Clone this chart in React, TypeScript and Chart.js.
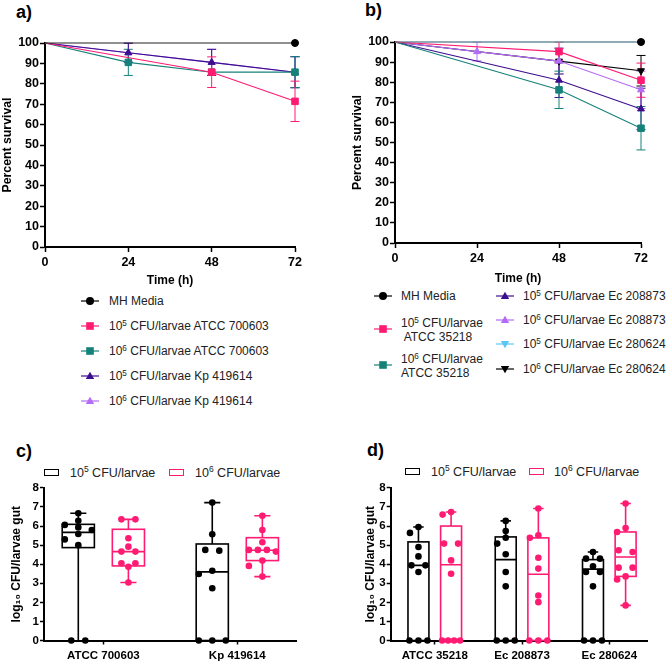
import React, { useEffect, useRef } from 'react';
import { Chart, registerables } from 'chart.js';

Chart.register(...registerables);

const FONT = "'Liberation Sans', Arial, Helvetica, sans-serif";
Chart.defaults.font.family = FONT;
Chart.defaults.color = '#000';

const PINK = '#FF1A72';
const TEAL = '#15827A';
const DPURPLE = '#3C0E8E';
const LPURPLE = '#B46CF6';
const LBLUE = '#5CC6F2';
const BLACK = '#000000';

// ---------- Panels a & b: survival ----------
const TIMES = [0, 24, 48, 72];

const A_MH = [100, 100, 100, 100];
const A_ATCC700603_E5 = [100, null, 85.7, 71.4];
const A_ATCC700603_E5_LO = [null, null, 78.2, 61.5];
const A_ATCC700603_E5_HI = [null, null, 93.2, 81.3];
const A_ATCC700603_E6 = [100, 90.5, 85.7, 85.7];
const A_ATCC700603_E6_LO = [null, 84.1, null, 78.1];
const A_ATCC700603_E6_HI = [null, 96.9, null, 93.3];
const A_KP419614_E5 = [100, 95.2, 90.5, 85.7];
const A_KP419614_E5_LO = [null, 90.6, 84.1, 78.1];
const A_KP419614_E5_HI = [null, 99.9, 96.9, 93.3];
const A_KP419614_E6 = [100, 95.2, 90.5, 85.7];
const A_KP419614_E6_LO = [null, 90.6, 84.1, 78.1];
const A_KP419614_E6_HI = [null, 99.9, 96.9, 93.3];

const B_MH = [100, 100, 100, 100];
const B_ATCC35218_E5 = [100, null, 95.2, 81.0];
const B_ATCC35218_E5_LO = [null, null, 90.6, 72.5];
const B_ATCC35218_E5_HI = [null, null, 99.9, 89.5];
const B_ATCC35218_E6 = [100, null, 76.2, 57.1];
const B_ATCC35218_E6_LO = [null, null, 66.9, 46.3];
const B_ATCC35218_E6_HI = [null, null, 85.5, 67.9];
const B_EC208873_E5 = [100, null, 81.0, 66.7];
const B_EC208873_E5_LO = [null, null, 72.4, 56.4];
const B_EC208873_E5_HI = [null, null, 89.6, 77.0];
const B_EC208873_E6 = [100, 95.2, 90.5, 76.2];
const B_EC208873_E6_LO = [null, 90.6, 84.1, 66.9];
const B_EC208873_E6_HI = [null, 99.9, 96.9, 85.5];
const B_EC280624_E5 = [100, null, null, 100];
const B_EC280624_E6 = [100, null, 90.5, 85.7];
const B_EC280624_E6_LO = [null, null, 84.1, 78.1];
const B_EC280624_E6_HI = [null, null, 96.9, 93.3];

// ---------- Panels c & d: gut colonisation ----------
const C_CATS = ['ATCC 700603', 'Kp 419614'];
const C_ATCC700603_E5 = [6.67, 6.28, 6.06, 5.93, 5.79, 5.58, 5.3, 5.0, 0, 0];
const C_ATCC700603_E6 = [6.35, 6.35, 5.36, 4.92, 4.66, 4.66, 4.05, 4.05, 3.87, 3.04];
const C_KP419614_E5 = [7.23, 5.57, 4.75, 4.71, 3.66, 3.49, 2.74, 0, 0, 0];
const C_KP419614_E6 = [6.54, 5.79, 5.15, 4.75, 4.75, 4.75, 4.66, 4.19, 3.91, 3.35];
// [min, q1, median, q3, max]
const C_BOX_E5 = [[0, 4.87, 5.67, 6.09, 6.67], [0, 0, 3.6, 5.06, 7.23]];
const C_BOX_E6 = [[3.04, 3.91, 4.66, 5.83, 6.35], [3.35, 4.19, 4.73, 5.39, 6.54]];

const D_CATS = ['ATCC 35218', 'Ec 208873', 'Ec 280624'];
const D_ATCC35218_E5 = [5.95, 5.64, 4.9, 4.41, 3.94, 3.94, 3.59, 0, 0, 0];
const D_ATCC35218_E6 = [6.74, 6.6, 5.08, 5.08, 4.2, 3.5, 0, 0, 0, 0];
const D_EC208873_E5 = [6.27, 5.74, 5.39, 5.08, 4.52, 3.59, 2.84, 0, 0, 0];
const D_EC208873_E6 = [6.92, 5.52, 5.39, 4.34, 3.77, 2.36, 2.01, 0, 0, 0];
const D_EC280624_E5 = [4.64, 4.29, 4.29, 3.89, 3.59, 3.59, 2.84, 0, 0, 0];
const D_EC280624_E6 = [7.18, 5.9, 5.69, 4.73, 4.64, 3.82, 3.82, 3.36, 3.2, 1.84];
const D_BOX_E5 = [[0, 0, 3.94, 5.17, 5.95], [0, 0, 4.24, 5.43, 6.27], [0, 0, 3.74, 4.24, 4.64]];
const D_BOX_E6 = [[0, 0, 3.97, 6.0, 6.74], [0, 0, 3.47, 5.38, 6.92], [1.84, 3.36, 4.38, 5.69, 7.18]];

// ---------- helpers ----------
const BOLD = (size: number) => ({ family: FONT, size, weight: 'bold' as const });

type Series = {
  exp: string | null;
  text: string;
  values: (number | null)[];
  lo?: (number | null)[];
  hi?: (number | null)[];
  color: string;
  line?: string;
  shape: 'circle' | 'rect' | 'triangle';
  down?: boolean;
};

const A_SERIES: Series[] = [
  { exp: null, text: 'MH Media', values: A_MH, color: BLACK, line: '#222', shape: 'circle' },
  { exp: '5', text: ' CFU/larvae ATCC 700603', values: A_ATCC700603_E5, lo: A_ATCC700603_E5_LO, hi: A_ATCC700603_E5_HI, color: PINK, shape: 'rect' },
  { exp: '6', text: ' CFU/larvae ATCC 700603', values: A_ATCC700603_E6, lo: A_ATCC700603_E6_LO, hi: A_ATCC700603_E6_HI, color: TEAL, shape: 'rect' },
  { exp: '5', text: ' CFU/larvae Kp 419614', values: A_KP419614_E5, lo: A_KP419614_E5_LO, hi: A_KP419614_E5_HI, color: DPURPLE, shape: 'triangle' },
  { exp: '6', text: ' CFU/larvae Kp 419614', values: A_KP419614_E6, lo: A_KP419614_E6_LO, hi: A_KP419614_E6_HI, color: LPURPLE, shape: 'triangle' },
];

const B_SERIES: Series[] = [
  { exp: null, text: 'MH Media', values: B_MH, color: BLACK, line: '#777', shape: 'circle' },
  { exp: '5', text: ' CFU/larvae|ATCC 35218', values: B_ATCC35218_E5, lo: B_ATCC35218_E5_LO, hi: B_ATCC35218_E5_HI, color: PINK, shape: 'rect' },
  { exp: '6', text: ' CFU/larvae|ATCC 35218', values: B_ATCC35218_E6, lo: B_ATCC35218_E6_LO, hi: B_ATCC35218_E6_HI, color: TEAL, shape: 'rect' },
  { exp: '5', text: ' CFU/larvae Ec 208873', values: B_EC208873_E5, lo: B_EC208873_E5_LO, hi: B_EC208873_E5_HI, color: DPURPLE, shape: 'triangle' },
  { exp: '6', text: ' CFU/larvae Ec 208873', values: B_EC208873_E6, lo: B_EC208873_E6_LO, hi: B_EC208873_E6_HI, color: LPURPLE, shape: 'triangle' },
  { exp: '5', text: ' CFU/larvae Ec 280624', values: B_EC280624_E5, color: LBLUE, shape: 'triangle', down: true },
  { exp: '6', text: ' CFU/larvae Ec 280624', values: B_EC280624_E6, lo: B_EC280624_E6_LO, hi: B_EC280624_E6_HI, color: BLACK, shape: 'triangle', down: true },
];

const errorBarPlugin = {
  id: 'errorBars',
  beforeDatasetsDraw(chart: any) {
    const { ctx } = chart;
    const xs = chart.scales.x;
    const ys = chart.scales.y;
    const ds = chart.data.datasets;
    for (let i = ds.length - 1; i >= 0; i--) {
      const d = ds[i];
      if (!d.errLo) continue;
      ctx.save();
      ctx.strokeStyle = d.pointBackgroundColor;
      ctx.lineWidth = 1;
      TIMES.forEach((t, j) => {
        const lo = d.errLo[j];
        const hi = d.errHi[j];
        if (lo == null || hi == null) return;
        const px = xs.getPixelForValue(t);
        const pl = ys.getPixelForValue(lo);
        const ph = ys.getPixelForValue(hi);
        ctx.beginPath();
        ctx.moveTo(px, pl);
        ctx.lineTo(px, ph);
        ctx.moveTo(px - 4.5, pl);
        ctx.lineTo(px + 4.5, pl);
        ctx.moveTo(px - 4.5, ph);
        ctx.lineTo(px + 4.5, ph);
        ctx.stroke();
      });
      ctx.restore();
    }
  },
};

type SurvLayout = { padTop: number; padRight: number; yWidth: number; xHeight: number; yTitlePad: number; xTitlePad: number; xTickPad: number };

function survivalConfig(series: Series[], L: SurvLayout): any {
  const gridOpts = { display: true, drawOnChartArea: false, drawTicks: true, tickLength: 5, tickWidth: 1.5, tickColor: '#000' };
  const borderOpts = { display: true, color: '#000', width: 2 };
  return {
    type: 'line',
    data: {
      labels: TIMES,
      datasets: series.map((s) => {
        const r = s.shape === 'rect' ? 4.6 : s.shape === 'circle' ? 3.5 : 4.0;
        return {
          label: s.text,
          data: s.values,
          borderColor: s.line ?? s.color,
          backgroundColor: s.color,
          pointBackgroundColor: s.color,
          pointBorderColor: s.color,
          pointBorderWidth: 1,
          borderWidth: 1.1,
          pointStyle: s.shape,
          pointRotation: s.down ? 180 : 0,
          // markers at event times only: none at the start, and a constant 100% line shows one at the end
          pointRadius: (c: any) => {
            if (c.dataIndex === 0) return 0;
            const vals = s.values;
            const flat = vals.every((v) => v === null || v === 100);
            if (flat && c.dataIndex !== vals.length - 1) return 0;
            return r;
          },
          spanGaps: true,
          clip: false,
          tension: 0,
          fill: false,
          errLo: s.lo,
          errHi: s.hi,
        };
      }),
    },
    options: {
      responsive: false,
      animation: false,
      events: [],
      layout: { padding: { top: L.padTop, right: L.padRight, left: 0, bottom: 0 } },
      plugins: { legend: { display: false }, tooltip: { enabled: false } },
      scales: {
        x: {
          type: 'linear',
          min: 0,
          max: 72,
          ticks: { stepSize: 24, font: BOLD(12.5), color: '#000', padding: L.xTickPad, maxRotation: 0, autoSkip: false },
          grid: gridOpts,
          border: borderOpts,
          title: { display: true, text: 'Time (h)', font: BOLD(12), color: '#000', padding: { top: 0, bottom: L.xTitlePad } },
          afterFit: (sc: any) => {
            sc.height = L.xHeight;
          },
        },
        y: {
          type: 'linear',
          min: 0,
          max: 100,
          ticks: { stepSize: 10, font: BOLD(12.5), color: '#000', padding: 1 },
          grid: gridOpts,
          border: borderOpts,
          title: { display: true, text: 'Percent survival', font: BOLD(12.3), color: '#000', padding: { top: L.yTitlePad, bottom: 0 } },
          afterFit: (sc: any) => {
            sc.width = L.yWidth;
          },
        },
      },
    },
    plugins: [errorBarPlugin],
  };
}

// simple beeswarm: returns horizontal pixel offsets for each value
function swarm(vals: number[], yPx: number, step: number, tieSpread: number, diam: number): number[] {
  const order = vals.map((_, i) => i).sort((a, b) => vals[b] - vals[a]);
  const out = new Array(vals.length).fill(0);
  const placed: { v: number; x: number }[] = [];
  let k = 0;
  while (k < order.length) {
    let j = k;
    while (j + 1 < order.length && Math.abs(vals[order[j + 1]] - vals[order[k]]) < 0.1) j++;
    const n = j - k + 1;
    if (n > 1) {
      const sp = Math.min(14, tieSpread / (n - 1));
      for (let m = 0; m < n; m++) {
        const xo = (m - (n - 1) / 2) * sp;
        out[order[k + m]] = xo;
        placed.push({ v: vals[order[k + m]], x: xo });
      }
    } else {
      const v = vals[order[k]];
      const cands = [0, -step, step, -2 * step, 2 * step];
      const ok = cands.find((c) => placed.every((p) => Math.hypot(c - p.x, (v - p.v) * yPx) >= diam));
      const xo = ok ?? 0;
      out[order[k]] = xo;
      placed.push({ v, x: xo });
    }
    k = j + 1;
  }
  return out;
}

type BoxGroup = { color: string; offset: number; stats: number[][]; points: number[][] };
type BoxLayout = {
  padTop: number; padRight: number; yWidth: number; xHeight: number; yTitlePad: number; xTickPad: number;
  xMin: number; xMax: number; xPxPerUnit: number; step: number; tieSpread: number;
};

const BOX_W = 0.24;
const Y_PX = 19.1;

function makeBoxPlugin(groups: BoxGroup[]) {
  return {
    id: 'boxes',
    beforeDatasetsDraw(chart: any) {
      const { ctx } = chart;
      const xs = chart.scales.x;
      const ys = chart.scales.y;
      groups.forEach((g) => {
        g.stats.forEach((st, i) => {
          const [mn, q1, md, q3, mx] = st;
          const cx = xs.getPixelForValue(i + 1 + g.offset);
          const hw = xs.getPixelForValue(i + 1 + g.offset + BOX_W / 2) - cx;
          const cap = hw / 2;
          const py = (v: number) => ys.getPixelForValue(v);
          ctx.save();
          ctx.strokeStyle = g.color;
          ctx.lineWidth = 1.6;
          ctx.beginPath();
          ctx.moveTo(cx, py(q3));
          ctx.lineTo(cx, py(mx));
          ctx.moveTo(cx - cap, py(mx));
          ctx.lineTo(cx + cap, py(mx));
          ctx.moveTo(cx, py(q1));
          ctx.lineTo(cx, py(mn));
          if (mn > 0) {
            ctx.moveTo(cx - cap, py(mn));
            ctx.lineTo(cx + cap, py(mn));
          }
          ctx.moveTo(cx - hw, py(md));
          ctx.lineTo(cx + hw, py(md));
          ctx.stroke();
          ctx.strokeRect(cx - hw, py(q3), 2 * hw, py(q1) - py(q3));
          ctx.restore();
        });
      });
    },
  };
}

function boxConfig(cats: string[], groups: BoxGroup[], L: BoxLayout): any {
  const gridOpts = { display: true, drawOnChartArea: false, drawTicks: true, tickLength: 4, tickWidth: 1.5, tickColor: '#000' };
  const borderOpts = { display: true, color: '#000', width: 2 };
  const datasets: any[] = [];
  groups.forEach((g) =>
    g.points.forEach((vals, i) => {
      const offs = swarm(vals, Y_PX, L.step, L.tieSpread, 6.4);
      datasets.push({
        data: vals.map((v, k) => ({ x: i + 1 + g.offset + offs[k] / L.xPxPerUnit, y: v })),
        backgroundColor: g.color,
        borderColor: g.color,
        pointRadius: 3.3,
        pointBorderWidth: 0,
        clip: false,
      });
    })
  );
  return {
    type: 'scatter',
    data: { datasets },
    options: {
      responsive: false,
      animation: false,
      events: [],
      layout: { padding: { top: L.padTop, right: L.padRight, left: 0, bottom: 0 } },
      plugins: { legend: { display: false }, tooltip: { enabled: false } },
      scales: {
        x: {
          type: 'linear',
          min: L.xMin,
          max: L.xMax,
          afterBuildTicks: (sc: any) => {
            sc.ticks = cats.map((_, i) => ({ value: i + 1 }));
          },
          ticks: { font: BOLD(11.5), color: '#000', padding: L.xTickPad, maxRotation: 0, autoSkip: false, callback: (v: any) => cats[Math.round(v) - 1] ?? '' },
          grid: gridOpts,
          border: borderOpts,
          afterFit: (sc: any) => {
            sc.height = L.xHeight;
          },
        },
        y: {
          type: 'linear',
          min: 0,
          max: 8,
          ticks: { stepSize: 1, font: BOLD(11.5), color: '#000', padding: 1 },
          grid: gridOpts,
          border: borderOpts,
          title: { display: true, text: 'log₁₀ CFU/larvae gut', font: BOLD(12), color: '#000', padding: { top: L.yTitlePad, bottom: 0 } },
          afterFit: (sc: any) => {
            sc.width = L.yWidth;
          },
        },
      },
    },
    plugins: [makeBoxPlugin(groups)],
  };
}

function ChartBox({ left, top, width, height, make }: { left: number; top: number; width: number; height: number; make: () => any }) {
  const ref = useRef<HTMLCanvasElement>(null);
  useEffect(() => {
    const chart = new Chart(ref.current as HTMLCanvasElement, make());
    return () => chart.destroy();
  }, []);
  return <canvas ref={ref} width={width} height={height} style={{ position: 'absolute', left, top, width, height, display: 'block' }} />;
}

function Sup({ exp }: { exp: string | null }) {
  if (!exp) return null;
  return (
    <>
      10
      <sup style={{ fontSize: '0.68em', lineHeight: 0, verticalAlign: '0.55em' }}>{exp}</sup>
    </>
  );
}

function Marker({ cx, cy, s }: { cx: number; cy: number; s: Series }) {
  const c = s.color;
  let shape: React.ReactNode = null;
  if (s.shape === 'circle') shape = <circle cx={10} cy={6} r={4} fill={c} />;
  else if (s.shape === 'rect') shape = <rect x={6.2} y={2.2} width={7.6} height={7.6} fill={c} />;
  else if (s.down) shape = <polygon points="10,10.2 14.2,3 5.8,3" fill={c} />;
  else shape = <polygon points="10,1.8 14.2,9 5.8,9" fill={c} />;
  return (
    <svg width={20} height={12} style={{ position: 'absolute', left: cx - 10, top: cy - 6 }}>
      <line x1={1} y1={6} x2={19} y2={6} stroke={c} strokeWidth={1.2} />
      {shape}
    </svg>
  );
}

function LegendText({ x, y, s, second }: { x: number; y: number; s: Series; second?: string }) {
  const parts = s.text.split('|');
  return (
    <div style={{ position: 'absolute', left: x, top: y - 7, fontSize: 12, lineHeight: '14px', color: '#222', whiteSpace: 'pre' }}>
      <Sup exp={s.exp} />
      {parts[0]}
      {parts[1] !== undefined ? (
        <>
          <br />
          {second ?? parts[1]}
        </>
      ) : null}
    </div>
  );
}

function BoxLegend({ y, items }: { y: number; items: { rx: number; tx: number; color: string; exp: string }[] }) {
  return (
    <>
      {items.map((it, i) => (
        <React.Fragment key={i}>
          <div style={{ position: 'absolute', left: it.rx, top: y - 4, width: 13, height: 5, border: `1.6px solid ${it.color}` }} />
          <div style={{ position: 'absolute', left: it.tx, top: y - 8, fontSize: 12.5, lineHeight: '16px', color: '#222', whiteSpace: 'pre' }}>
            <Sup exp={it.exp} /> CFU/larvae
          </div>
        </React.Fragment>
      ))}
    </>
  );
}

const TITLE_STYLE: React.CSSProperties = { position: 'absolute', fontSize: 18, fontWeight: 'bold', lineHeight: '18px', color: '#000' };

export default function App() {
  const aRows = [301, 325.5, 350.5, 376, 401];
  const bCol2 = [296, 320, 344, 368.7];
  return (
    <div style={{ position: 'absolute', left: 0, top: 0, width: 668, height: 663, background: '#fff', fontFamily: FONT, overflow: 'hidden' }}>
      <div style={{ ...TITLE_STYLE, left: 16, top: 3 }}>a)</div>
      <div style={{ ...TITLE_STYLE, left: 365, top: 1 }}>b)</div>
      <div style={{ ...TITLE_STYLE, left: 16, top: 442 }}>c)</div>
      <div style={{ ...TITLE_STYLE, left: 367, top: 441 }}>d)</div>

      <ChartBox
        left={0}
        top={30}
        width={334}
        height={260}
        make={() => survivalConfig(A_SERIES, { padTop: 13, padRight: 39, yWidth: 45, xHeight: 43, yTitlePad: 0, xTitlePad: 2, xTickPad: 3 })}
      />
      <ChartBox
        left={340}
        top={30}
        width={328}
        height={258}
        make={() => survivalConfig(B_SERIES, { padTop: 12, padRight: 27, yWidth: 55, xHeight: 45, yTitlePad: 10, xTitlePad: 2, xTickPad: 3 })}
      />

      {A_SERIES.map((s, i) => (
        <React.Fragment key={'a' + i}>
          <Marker cx={90} cy={aRows[i]} s={s} />
          <LegendText x={109} y={aRows[i]} s={s} />
        </React.Fragment>
      ))}

      <Marker cx={383} cy={296} s={B_SERIES[0]} />
      <LegendText x={401} y={296} s={B_SERIES[0]} />
      <Marker cx={383} cy={328.5} s={B_SERIES[1]} />
      <LegendText x={401} y={323.3} s={B_SERIES[1]} second={' ATCC 35218'} />
      <Marker cx={383} cy={364.5} s={B_SERIES[2]} />
      <LegendText x={401} y={359.3} s={B_SERIES[2]} />
      {B_SERIES.slice(3).map((s, i) => (
        <React.Fragment key={'b' + i}>
          <Marker cx={505} cy={bCol2[i]} s={s} />
          <LegendText x={523} y={bCol2[i]} s={s} />
        </React.Fragment>
      ))}

      <BoxLegend
        y={473}
        items={[
          { rx: 44, tx: 70, color: BLACK, exp: '5' },
          { rx: 169, tx: 195, color: PINK, exp: '6' },
        ]}
      />
      <BoxLegend
        y={471.7}
        items={[
          { rx: 405, tx: 431, color: BLACK, exp: '5' },
          { rx: 529, tx: 554, color: PINK, exp: '6' },
        ]}
      />

      <ChartBox
        left={0}
        top={480}
        width={334}
        height={183}
        make={() =>
          boxConfig(
            C_CATS,
            [
              { color: BLACK, offset: -0.187, stats: C_BOX_E5, points: [C_ATCC700603_E5, C_KP419614_E5] },
              { color: PINK, offset: 0.187, stats: C_BOX_E6, points: [C_ATCC700603_E6, C_KP419614_E6] },
            ],
            { padTop: 7.7, padRight: 38, yWidth: 44, xHeight: 22.5, yTitlePad: 9.8, xTickPad: 4.5, xMin: 0.557, xMax: 2.438, xPxPerUnit: 134, step: 13.5, tieSpread: 27 }
          )
        }
      />
      <ChartBox
        left={334}
        top={480}
        width={334}
        height={183}
        make={() =>
          boxConfig(
            D_CATS,
            [
              { color: BLACK, offset: -0.187, stats: D_BOX_E5, points: [D_ATCC35218_E5, D_EC208873_E5, D_EC280624_E5] },
              { color: PINK, offset: 0.187, stats: D_BOX_E6, points: [D_ATCC35218_E6, D_EC208873_E6, D_EC280624_E6] },
            ],
            { padTop: 7.7, padRight: 21, yWidth: 56.7, xHeight: 22.5, yTitlePad: 29.8, xTickPad: 4.5, xMin: 0.495, xMax: 3.432, xPxPerUnit: 87.3, step: 8.5, tieSpread: 18 }
          )
        }
      />
    </div>
  );
}
